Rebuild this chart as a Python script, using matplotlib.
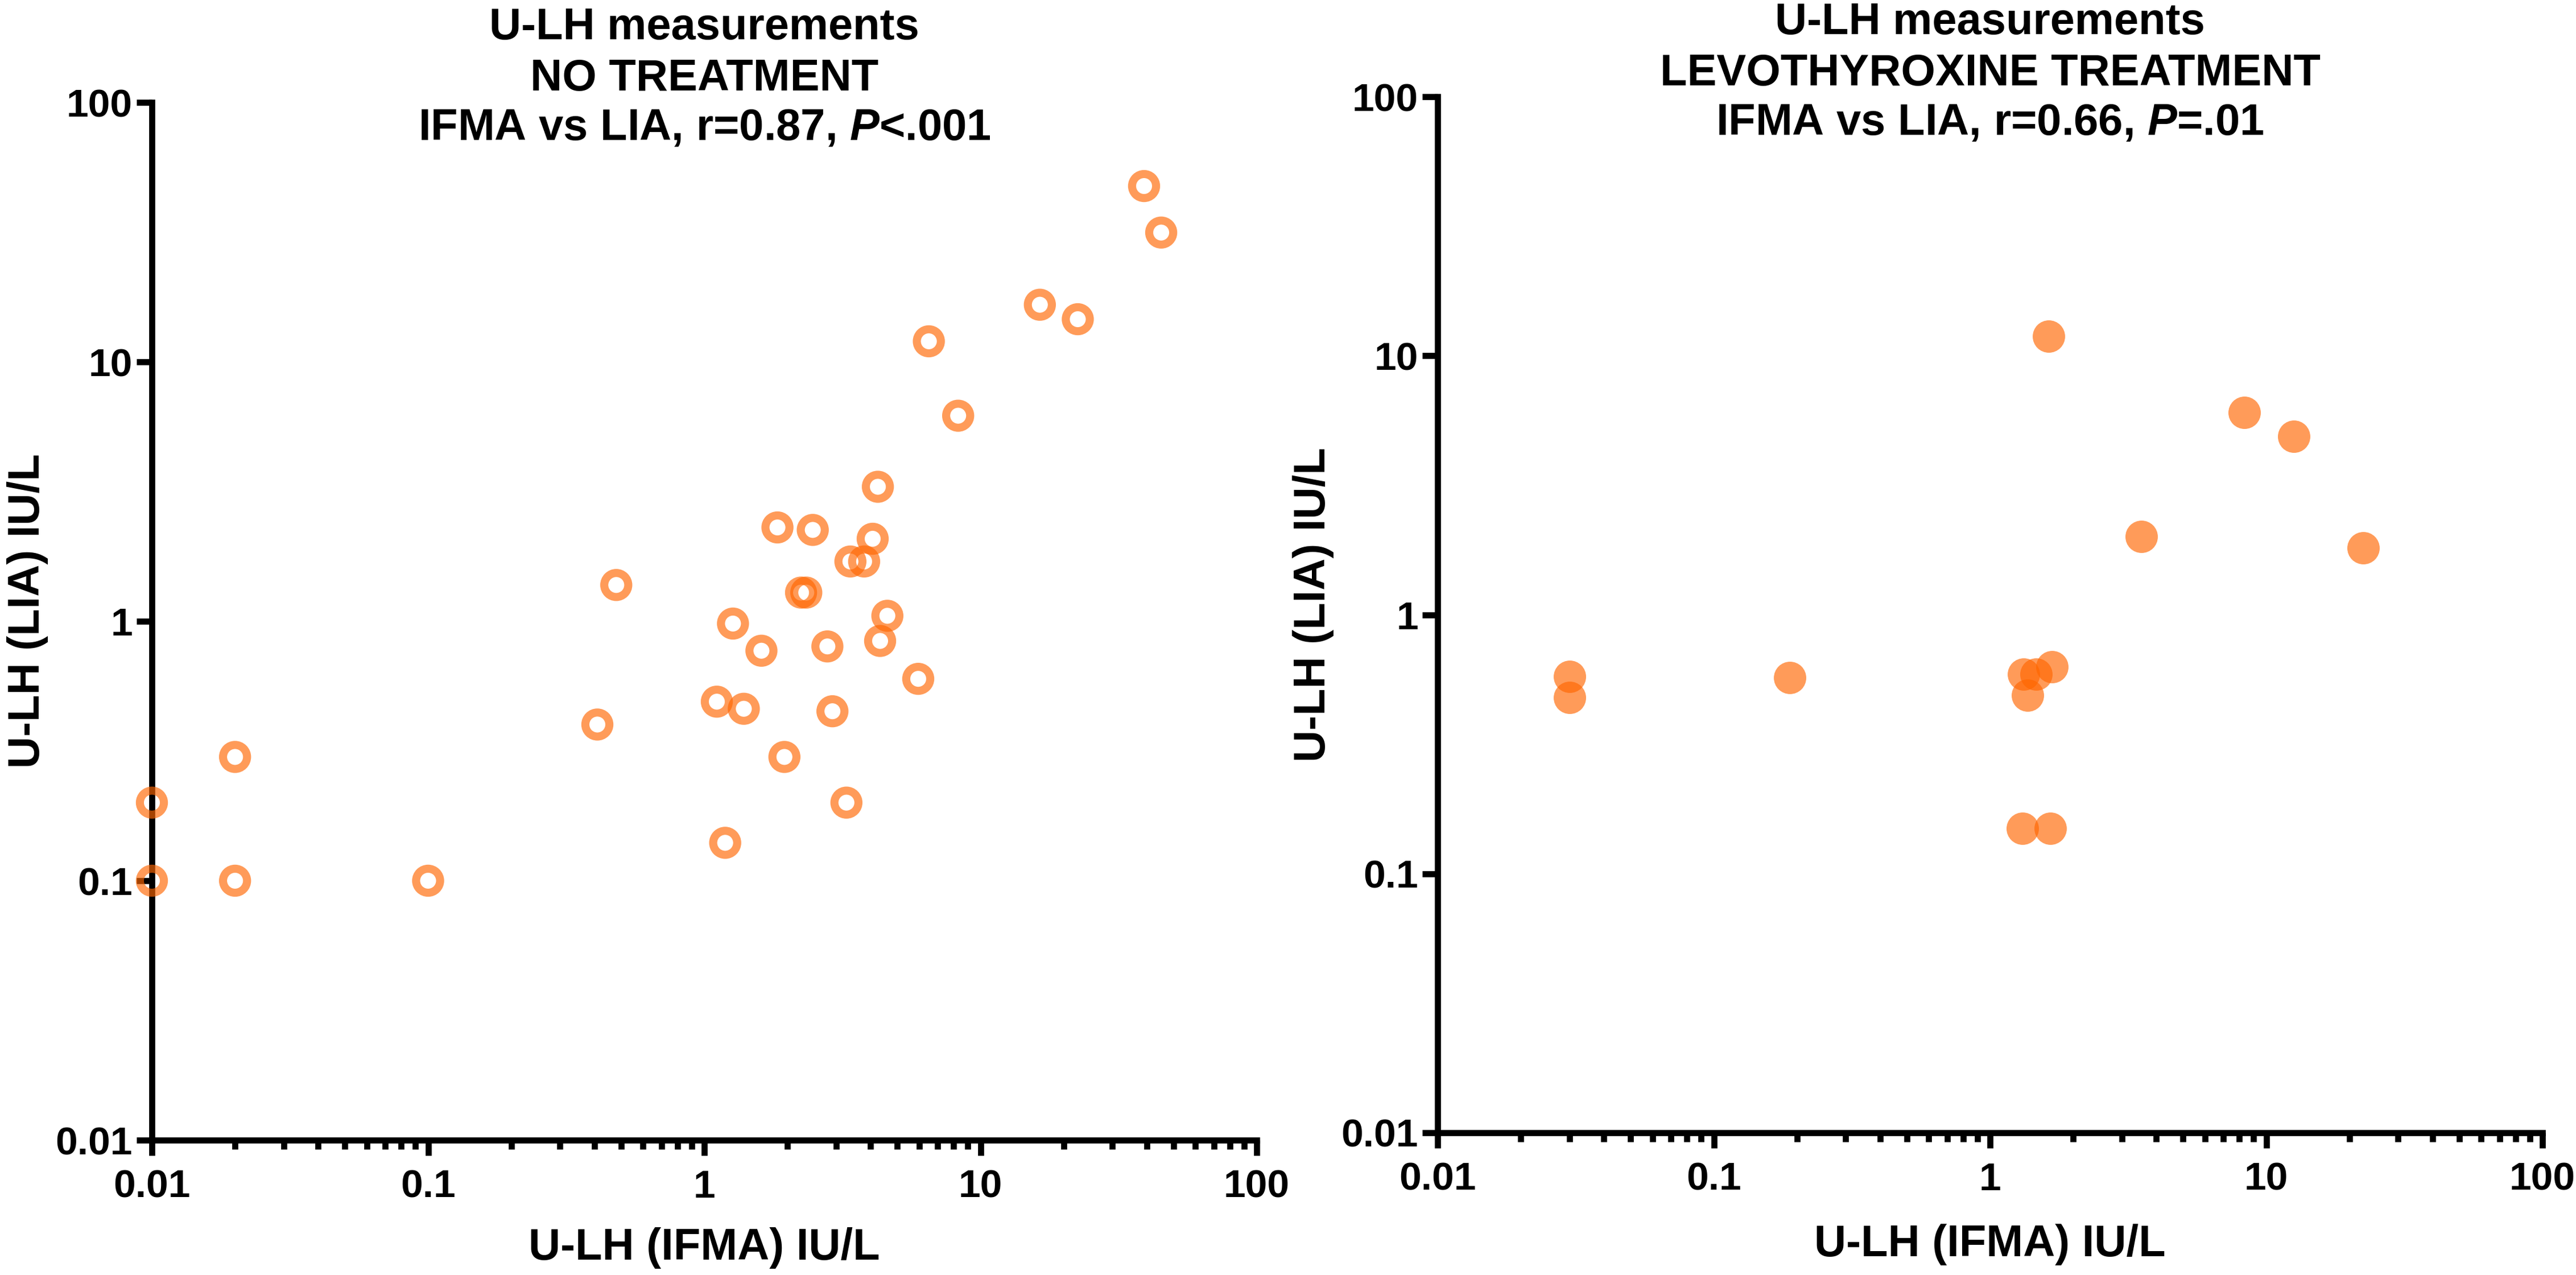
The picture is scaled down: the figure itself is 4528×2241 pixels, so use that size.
import matplotlib
matplotlib.use("Agg")
import matplotlib.pyplot as plt
from matplotlib.ticker import FixedLocator, NullLocator, NullFormatter

plt.rcParams['font.family'] = ['Liberation Sans', 'DejaVu Sans']
plt.rcParams['font.weight'] = 'bold'
plt.rcParams['mathtext.fontset'] = 'custom'
plt.rcParams['mathtext.rm'] = 'Liberation Sans:bold'
plt.rcParams['mathtext.it'] = 'Liberation Sans:italic:bold'

# no treatment (open circles)
no_tx_ifma = [39.1, 45.1, 16.4, 22.5, 6.5, 8.3, 4.25, 1.84, 2.47, 4.07, 3.38, 3.79,
              2.24, 2.34, 0.48, 1.27, 1.61, 2.79, 4.6, 4.33, 5.95, 1.11, 1.39, 0.41,
              2.91, 1.95, 3.27, 1.19, 0.02, 0.01, 0.01, 0.02, 0.1]
no_tx_lia = [47.6, 31.5, 16.6, 14.6, 12.0, 6.2, 3.3, 2.3, 2.25, 2.08, 1.7, 1.7,
             1.29, 1.29, 1.38, 0.98, 0.77, 0.8, 1.05, 0.84, 0.6, 0.49, 0.46, 0.4,
             0.45, 0.3, 0.2, 0.14, 0.3, 0.2, 0.1, 0.1, 0.1]

# levothyroxine treatment (filled circles)
levo_ifma = [1.63, 8.33, 12.6, 3.53, 22.4, 0.03, 0.03, 0.188, 1.32, 1.47, 1.68, 1.37, 1.31, 1.65]
levo_lia = [11.9, 6.04, 4.88, 2.0, 1.81, 0.578, 0.478, 0.571, 0.589, 0.589, 0.63, 0.489, 0.15, 0.15]

ticks = [0.01, 0.1, 1, 10, 100]
tick_labels = ['0.01', '0.1', '1', '10', '100']

titles = [["U-LH measurements", "NO TREATMENT", r"IFMA vs LIA, r=0.87, $\mathit{P}$<.001"],
          ["U-LH measurements", "LEVOTHYROXINE TREATMENT", r"IFMA vs LIA, r=0.66, $\mathit{P}$=.01"]]
xlab = "U-LH (IFMA) IU/L"
ylab = "U-LH (LIA) IU/L"

W, H = 4528, 2241
col = '#FF6600'

fig = plt.figure(figsize=(W / 100, H / 100), dpi=100)
ax1 = fig.add_axes([267 / W, (H - 2004) / H, 1942 / W, 1824 / H])
ax2 = fig.add_axes([2527 / W, (H - 1991) / H, 1942 / W, 1821 / H])

ax1.scatter(no_tx_ifma, no_tx_lia, s=30.4 ** 2, facecolors='none', edgecolors=col,
            linewidths=10.2, alpha=0.65, clip_on=False, zorder=3)
ax2.scatter(levo_ifma, levo_lia, s=41 ** 2, color=col, linewidths=0,
            alpha=0.65, clip_on=False, zorder=3)

for ax, tt, top_base, bottom_px, xl_base in [(ax1, titles[0], [69, 159, 246], 2004, 2214),
                                             (ax2, titles[1], [60, 150, 237], 1991, 2208)]:
    ax.set_xscale('log')
    ax.set_yscale('log')
    ax.set_xlim(0.01, 100)
    ax.set_ylim(0.01, 100)
    for s in ['top', 'right']:
        ax.spines[s].set_visible(False)
    for s in ['left', 'bottom']:
        ax.spines[s].set_linewidth(7.7)
    ax.xaxis.set_major_locator(FixedLocator(ticks))
    ax.yaxis.set_major_locator(FixedLocator(ticks))
    ax.set_xticklabels(tick_labels)
    ax.set_yticklabels(tick_labels)
    ax.xaxis.set_minor_locator(FixedLocator([m * d for d in [0.01, 0.1, 1, 10] for m in range(2, 10)]))
    ax.xaxis.set_minor_formatter(NullFormatter())
    ax.yaxis.set_minor_locator(NullLocator())
    ax.tick_params(which='major', length=19.5, width=7.7, labelsize=50)
    ax.tick_params(which='minor', length=11.5, width=7.7)
    ax.tick_params(axis='x', which='major', pad=17)
    ax.tick_params(axis='y', which='major', pad=5)
    for lab in ax.get_xticklabels() + ax.get_yticklabels():
        lab.set_fontweight('bold')

    for line, b in zip(tt, top_base):
        ax.annotate(line, xy=(0.5, H - b), xycoords=('axes fraction', 'figure pixels'),
                    ha='center', va='baseline', fontsize=56, fontweight='bold')

    ax.set_xlabel(xlab, fontsize=56, fontweight='bold', va='baseline')
    ax.xaxis.set_label_coords(0.5, (bottom_px - xl_base) / (ax.get_position().height * H))
    ax.set_ylabel(ylab, fontsize=56, fontweight='bold', va='baseline')
    ax.yaxis.set_label_coords(-198 / 1942, 0.51)

fig.savefig('out.png', dpi=100, facecolor='white')
